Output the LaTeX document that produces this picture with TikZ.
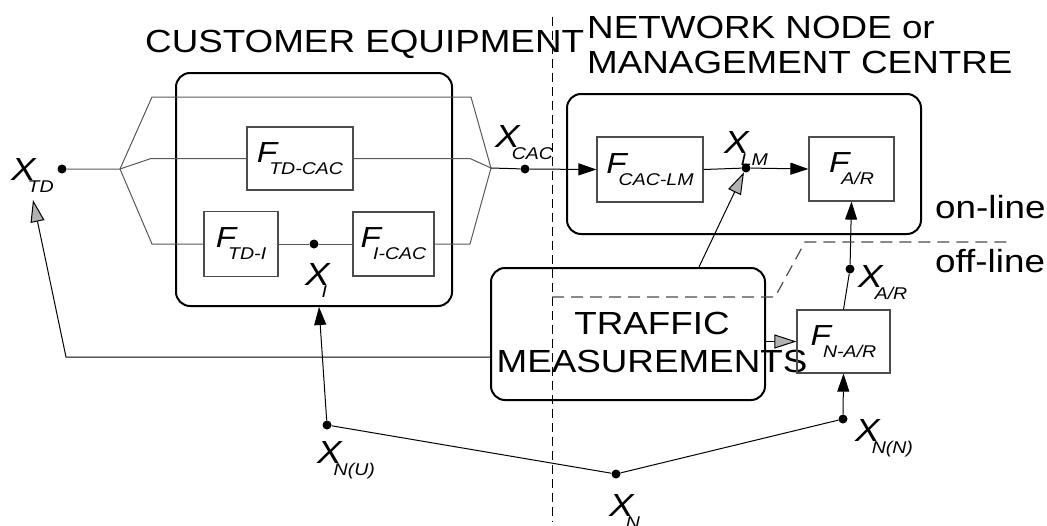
\documentclass[tikz,border=0pt]{standalone}
\usepackage{fontspec}
\setmainfont{Liberation Sans}[FakeStretch=1.15]
\usetikzlibrary{arrows.meta,calc}

\newcommand{\vsym}[3][29]{{\fontsize{#1}{#1}\selectfont\itshape #2\kern-8pt\raisebox{-12pt}{\fontsize{17}{17}\selectfont #3}}}

\begin{document}
\begin{tikzpicture}[
    x=1pt, y=-1pt,
    rbox/.style={draw, line width=2pt, rounded corners=14pt, inner sep=0pt},
    fbox/.style={draw=black!70, line width=1.2pt, inner sep=0pt},
    dot/.style={circle, fill, inner sep=0pt, minimum size=9pt},
    wire/.style={draw=black!65, line width=1pt},
    sig/.style={line width=1pt, -{Triangle[length=18pt,width=12pt]}},
    meas/.style={line width=1pt, -{Triangle[length=22pt,width=14pt,fill=black!30]}},
    title/.style={font=\fontsize{32}{38}\selectfont, inner sep=0pt},
    vlbl/.style={inner sep=0pt, anchor=base west}
  ]
    \useasboundingbox (0,0) rectangle (1047,525);

    \node[rbox, minimum width=276pt, minimum height=233pt] (cust) at (314,189.5) {};
    \node[rbox, minimum width=354pt, minimum height=140pt] (net) at (744,164) {};
    \node[rbox, minimum width=274pt, minimum height=132pt] (traffic) at (628,334) {};

    \node[title, anchor=base west] (custtitle) at (145,52) {CUSTOMER EQUIPMENT};
    \node[title, anchor=base west] (nettitle) at (587,38) {NETWORK NODE or};
    \node[title, anchor=base west] (mgmttitle) at (587,73) {MANAGEMENT CENTRE};
    \node[title, anchor=base west] (online) at (935,218) {on-line};
    \node[title, anchor=base west] (offline) at (935,272) {off-line};
    \node[title, align=center] (traffictxt) at (652,342.5) {TRAFFIC\\MEASUREMENTS};

    \node[fbox, minimum width=106pt, minimum height=63pt] (ftdcac) at (300,158.5) {\vsym{F}{TD-CAC}};
    \node[fbox, minimum width=74pt, minimum height=65pt] (ftdi) at (241,244) {\vsym{F}{TD-I}};
    \node[fbox, minimum width=81pt, minimum height=64pt] (fical) at (393.5,244) {\vsym{F}{I-CAC}};
    \node[fbox, minimum width=106pt, minimum height=65pt] (fcaclm) at (650,169.5) {\vsym{F}{CAC-LM}};
    \node[fbox, minimum width=85pt, minimum height=64pt] (far) at (851.5,169) {\vsym{F}{A/R}};
    \node[fbox, minimum width=93pt, minimum height=63pt] (fnar) at (843.5,341.5) {\vsym{F}{N-A/R}};

    \node[dot] (xtd) at (62,169) {};
    \node[dot] (xcac) at (525,169) {};
    \node[dot] (xi) at (314,244) {};
    \node[dot] (xlm) at (746,168) {};
    \node[dot] (xar) at (850,269) {};
    \node[dot] (xnu) at (327,425) {};
    \node[dot] (xn) at (616,474) {};
    \node[dot] (xnn) at (843,419) {};

    \node[vlbl] (lxtd) at (11,180) {\vsym[32]{X}{TD}};
    \node[vlbl] (lxi) at (305,285) {\vsym[32]{X}{I}};
    \node[vlbl] (lxcac) at (495,147) {\vsym[32]{X}{CAC}};
    \node[vlbl] (lxlm) at (724,153) {\vsym[32]{X}{LM}};
    \node[vlbl] (lxar) at (858,287) {\vsym[32]{X}{A/R}};
    \node[vlbl] (lxnu) at (317,463) {\vsym[32]{X}{N(U)}};
    \node[vlbl] (lxn) at (609,516) {\vsym[32]{X}{N}};
    \node[vlbl] (lxnn) at (855,441) {\vsym[32]{X}{N(N)}};

    \coordinate (forkL) at (120,169);
    \coordinate (forkR) at (491,168);
    \coordinate (tl) at (152,97);
    \coordinate (tr) at (471,97);
    \coordinate (ml) at (151,158.5);
    \coordinate (mr) at (470,158.5);
    \coordinate (bl) at (152,244);
    \coordinate (br) at (470,244);
    \coordinate (fbcorner) at (66,357);
    \coordinate (tdtip) at (33,200);

    \draw[wire] (xtd) -- (forkL) -- (tl) -- (tr) -- (forkR);
    \draw[wire] (forkL) -- (ml) -- (ftdcac.west);
    \draw[wire] (ftdcac.east) -- (mr) -- (forkR);
    \draw[wire] (forkL) -- (bl) -- (ftdi.west);
    \draw[wire] (ftdi.east) -- (xi) -- (fical.west);
    \draw[wire] (fical.east) -- (br) -- (forkR);

    \draw[sig] (forkR) -- (xcac) -- (fcaclm.west);
    \draw[sig] (fcaclm.east) -- (xlm) -- (far.west);
    \draw[sig] (fnar.north) -- (xar) -- (far.south);
    \draw[sig] (xnn) -- (fnar.south);
    \draw[sig] (xnu) -- ($(cust.south)+(5,0)$);
    \draw[line width=1pt] (xnu) -- (xn) -- (xnn);

    \draw[meas] ($(traffic.north)+(71,0)$) -- (xlm);
    \draw[meas] (traffic.east |- fnar.west) -- (fnar.west);
    \draw[meas] ($(traffic.west)+(0,23)$) -- (fbcorner) -- (tdtip);

    \draw[line width=0.8pt, dash pattern=on 9pt off 5pt] (552,17) -- (552,522);
    \draw[black!70, line width=1.2pt, dash pattern=on 12pt off 7pt] (552,297) -- (775,297) -- (805,242) -- (1013,242);
  \end{tikzpicture}
\end{document}
